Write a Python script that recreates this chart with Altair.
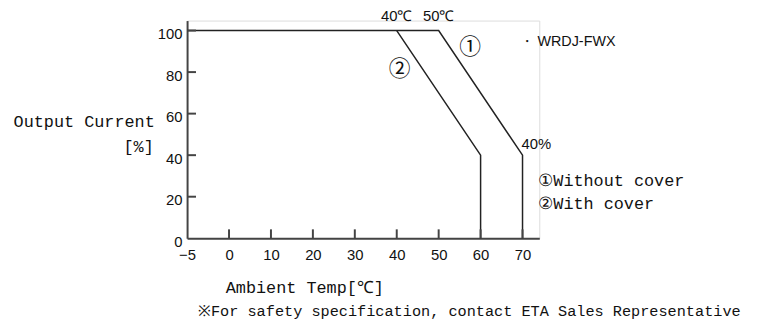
import altair as alt
import pandas as pd

# ---- data ----
series_names = ["without", "with"]
temp_without = [-5, 50, 70, 70]
curr_without = [100, 100, 40, 0]
temp_with = [40, 60, 60]
curr_with = [100, 40, 0]

x_tick_values = [-5, 0, 10, 20, 30, 40, 50, 60, 70]
y_tick_values = [0, 20, 40, 60, 80, 100]
x_inner_ticks = [0, 10, 20, 30, 40, 50, 60, 70]
y_inner_ticks = [20, 40, 60, 80, 100]

W, H = 356, 220
LINE = "#222222"
AX = "#444444"
MONO = "Liberation Mono, DejaVu Sans Mono, monospace"
NARROW = "Liberation Sans Narrow, Liberation Sans, Arial, sans-serif"
SANS = "Liberation Sans, Arial, sans-serif"
CJK = "Noto Sans CJK JP, sans-serif"

rows = []
for i, (t, c) in enumerate(zip(temp_without, curr_without)):
    rows.append({"series": series_names[0], "order": i, "temp": t, "curr": c})
for i, (t, c) in enumerate(zip(temp_with, curr_with)):
    rows.append({"series": series_names[1], "order": i, "temp": t, "curr": c})
df = pd.DataFrame(rows)

xscale = alt.Scale(domain=[-5, 0, 74], range=[0, 42.4, W], nice=False, zero=False)
yscale = alt.Scale(domain=[0, 104.8], nice=False, zero=False)

xaxis = alt.Axis(values=x_tick_values, tickSize=0, labelPadding=9, labelFont=NARROW,
                 labelFontSize=15, labelColor="#111", domainColor=AX, domainWidth=2,
                 grid=False, title=None, labelFlush=False)
yaxis = alt.Axis(values=y_tick_values, tickSize=0, labelPadding=5, labelFont=NARROW,
                 labelFontSize=15, labelColor="#111", domainColor=AX, domainWidth=2,
                 grid=False, title=None, labelOffset=3)

lines = alt.Chart(df).mark_line(color=LINE, strokeWidth=1.5).encode(
    x=alt.X("temp:Q", scale=xscale, axis=xaxis),
    y=alt.Y("curr:Q", scale=yscale, axis=yaxis),
    detail="series:N",
    order="order:Q",
)

# inward tick marks (about 9 px long), drawn as short line segments
ytick_len = 9 / H * 104.8
xtick_len = 9 / 42.4 * 5
tick_rows = []
for v in x_inner_ticks:
    tick_rows.append({"id": f"x{v}", "o": 0, "tx": v, "ty": 0.0})
    tick_rows.append({"id": f"x{v}", "o": 1, "tx": v, "ty": ytick_len})
for v in y_inner_ticks:
    tick_rows.append({"id": f"y{v}", "o": 0, "tx": -5.0, "ty": v})
    tick_rows.append({"id": f"y{v}", "o": 1, "tx": -5 + xtick_len, "ty": v})
ticks = alt.Chart(pd.DataFrame(tick_rows)).mark_line(color=AX, strokeWidth=2).encode(
    x=alt.X("tx:Q", scale=xscale, axis=xaxis),
    y=alt.Y("ty:Q", scale=yscale, axis=yaxis),
    detail="id:N",
    order="o:Q",
)


def data_text(text, xv, yv, size, font, align="center", dx=0, dy=0, ypix=None):
    enc = dict(x=alt.X("x:Q", scale=xscale), text="t:N")
    if ypix is None:
        enc["y"] = alt.Y("y:Q", scale=yscale)
    else:
        enc["y"] = alt.value(ypix)
    return alt.Chart(pd.DataFrame({"t": [text], "x": [xv], "y": [yv]})).mark_text(
        font=font, fontSize=size, align=align, baseline="middle", dx=dx, dy=dy, color="#111"
    ).encode(**enc)


def pix_text(text, xp, yp, size, font, align="left"):
    return alt.Chart(pd.DataFrame({"t": [text]})).mark_text(
        font=font, fontSize=size, align=align, baseline="middle", color="#111"
    ).encode(x=alt.value(xp), y=alt.value(yp), text="t:N")


annos = [
    data_text("40℃", 40, 0, 15, NARROW, ypix=-5),
    data_text("50℃", 50, 0, 15, NARROW, ypix=-5),
    data_text("40%", 70, 40, 15, NARROW, align="left", dx=-1, dy=-11),
    data_text("①", 57.5, 91.9, 22, CJK),
    data_text("②", 40.7, 81.4, 22, CJK),
    pix_text("・ WRDJ-FWX", 336, 22, 14.5, SANS),
    pix_text("①Without cover", 355, 162, 17, MONO),
    pix_text("②With cover", 355, 185, 17, MONO),
    pix_text("Output Current", -104, 103, 17, MONO, align="center"),
    pix_text("[%]", -49, 128, 17, MONO, align="center"),
    pix_text("Ambient Temp[℃]", 119, 270, 17, MONO, align="center"),
    pix_text("※For safety specification, contact ETA Sales Representative", 11, 294, 15.4, MONO),
]

chart = alt.layer(lines, ticks, *annos).properties(
    width=W, height=H, autosize="none",
    padding={"left": 181, "top": 11, "right": 216, "bottom": 89},
).configure_view(stroke=None).configure(background="white")

chart.save("out.html", embed_options={"renderer": "svg", "actions": False})
